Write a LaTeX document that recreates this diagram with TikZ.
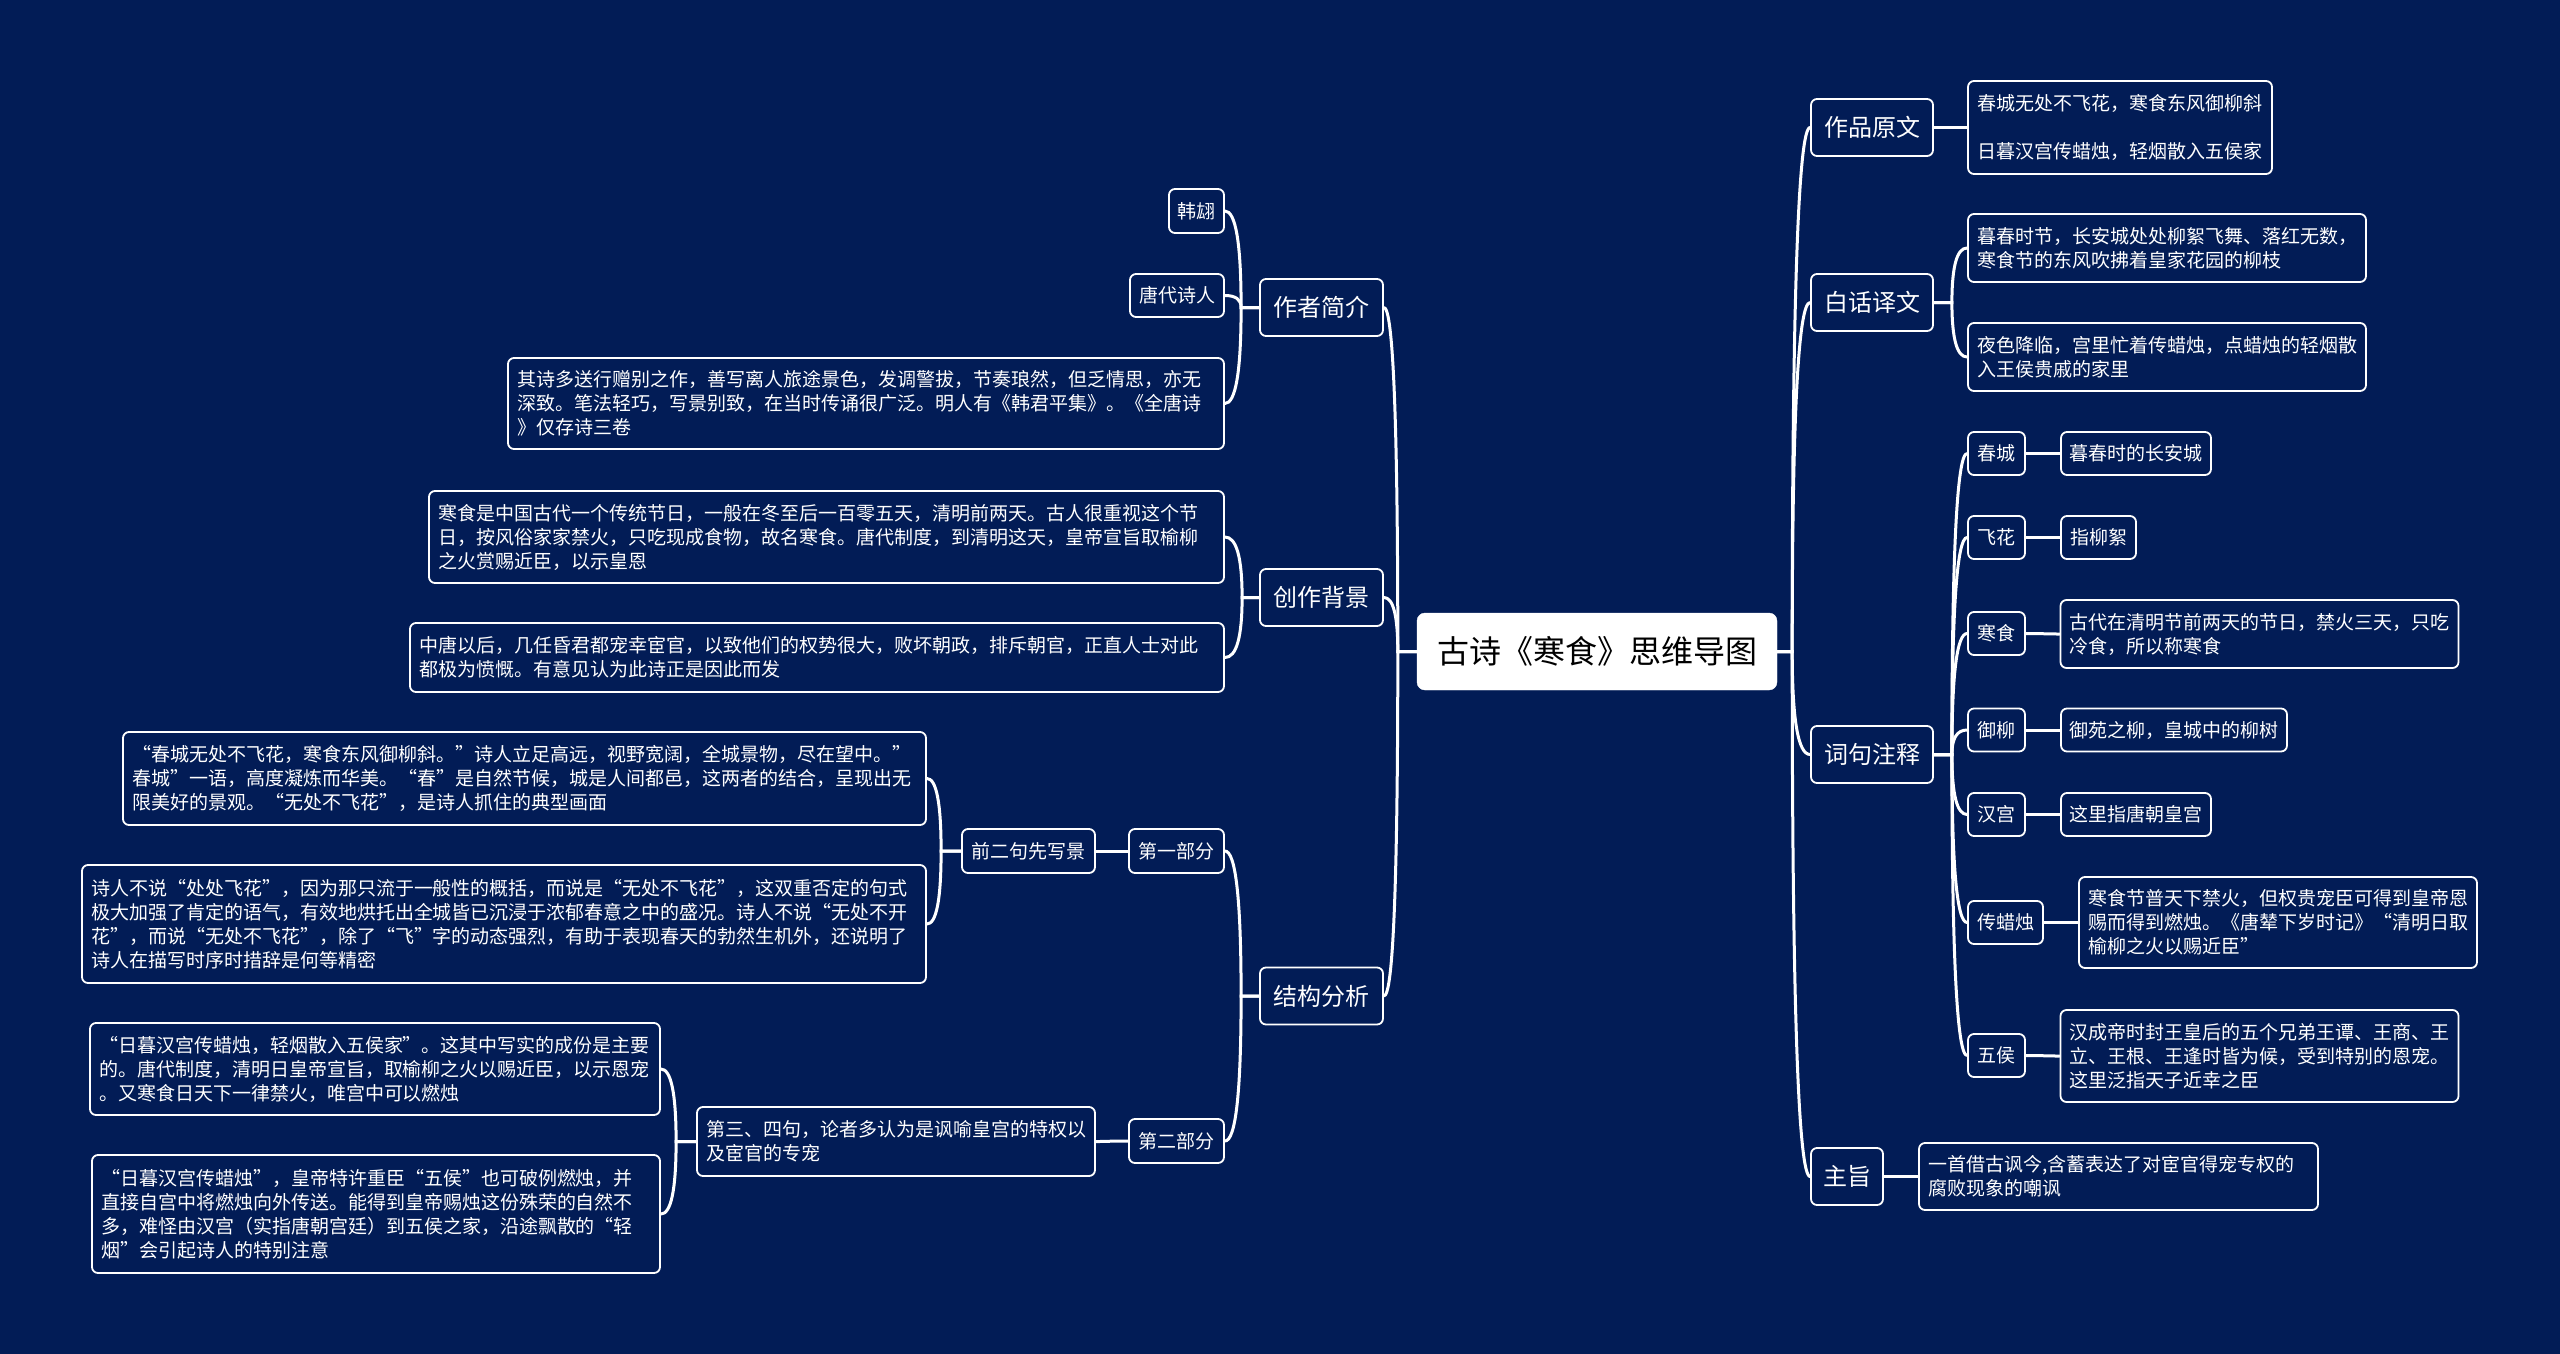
\documentclass[tikz,border=0pt]{standalone}
\usepackage{fontspec}
\newfontfamily\cjk{Noto Sans CJK SC}
\usetikzlibrary{calc}
\definecolor{bg}{RGB}{2,28,86}
\tikzset{
  base/.style={draw=white, line width=1.8pt, fill=bg, rounded corners=6pt, text=white, inner sep=0pt},
  root/.style={fill=white, draw=white, rounded corners=8pt, text=black, inner sep=0pt,
    font=\cjk\fontsize{32}{38}\selectfont, minimum width=360pt, minimum height=77pt},
  mainbox/.style={base, font=\cjk\fontsize{24}{30}\selectfont, minimum height=57pt, align=center},
  tag/.style={base, font=\cjk\fontsize{19}{24}\selectfont, minimum height=43pt, align=center},
  leaf/.style 2 args={base, font=\cjk\fontsize{19}{24}\selectfont, align=left, inner xsep=9pt,
    inner ysep=2pt, text width=#1pt, minimum height=#2pt},
  link/.style={draw=white, line width=3pt, line cap=round},
  conn/.style={to path={let \p1=(\tikztostart), \p2=(\tikztotarget) in
    -- (\x1+#1,\y1)
    .. controls (\x1+#1,{\y1+2/3*(\y2-\y1)}) and ({\x1+#1+(\x2-\x1-#1)/3},\y2) ..
    (\tikztotarget)}}
}
\begin{document}
\begin{tikzpicture}[x=1pt,y=-1pt]
\fill[bg] (0,0) rectangle (2560,1354);
\useasboundingbox (0,0) rectangle (2560,1354);

% root
\node[root] (root) at (1597,651.5) {古诗《寒食》思维导图};

% right main branches
\node[mainbox, minimum width=122pt] (A1) at (1872,127.5) {作品原文};
\node[mainbox, minimum width=122pt] (A2) at (1872,302.5) {白话译文};
\node[mainbox, minimum width=122pt] (A3) at (1872,754.5) {词句注释};
\node[mainbox, minimum width=72pt] (A4) at (1847,1176.5) {主旨};

\node[leaf={286}{93}] (A1L) at (2120,127.5) {春城无处不飞花，寒食东风御柳斜\\\mbox{}\\日暮汉宫传蜡烛，轻烟散入五侯家};
\node[leaf={380}{68}] (A2L1) at (2167,248) {暮春时节，长安城处处柳絮飞舞、落红无数，\\寒食节的东风吹拂着皇家花园的柳枝};
\node[leaf={380}{68}] (A2L2) at (2167,357) {夜色降临，宫里忙着传蜡烛，点蜡烛的轻烟散\\入王侯贵戚的家里};

\node[tag, minimum width=57pt] (C1) at (1996.5,453.5) {春城};
\node[tag, minimum width=57pt] (C2) at (1996.5,537.5) {飞花};
\node[tag, minimum width=57pt] (C3) at (1996.5,633.5) {寒食};
\node[tag, minimum width=57pt] (C4) at (1996.5,730) {御柳};
\node[tag, minimum width=57pt] (C5) at (1996.5,814.5) {汉宫};
\node[tag, minimum width=75pt] (C6) at (2005.5,922.5) {传蜡烛};
\node[tag, minimum width=57pt] (C7) at (1996.5,1055.5) {五侯};

\node[tag, minimum width=150pt] (C1L) at (2136,453.5) {暮春时的长安城};
\node[tag, minimum width=75pt] (C2L) at (2098.5,537.5) {指柳絮};
\node[leaf={380}{68}] (C3L) at (2259.5,634) {古代在清明节前两天的节日，禁火三天，只吃\\冷食，所以称寒食};
\node[tag, minimum width=226pt] (C4L) at (2174,730) {御苑之柳，皇城中的柳树};
\node[tag, minimum width=150pt] (C5L) at (2136,814.5) {这里指唐朝皇宫};
\node[leaf={380}{91}] (C6L) at (2278,922.5) {寒食节普天下禁火，但权贵宠臣可得到皇帝恩\\赐而得到燃烛。《唐辇下岁时记》“清明日取\\榆柳之火以赐近臣”};
\node[leaf={380}{92}] (C7L) at (2259.5,1056) {汉成帝时封王皇后的五个兄弟王谭、王商、王\\立、王根、王逢时皆为候，受到特别的恩宠。\\这里泛指天子近幸之臣};

\node[leaf={381}{67}] (A4L) at (2118.5,1176.5) {一首借古讽今,含蓄表达了对宦官得宠专权的\\腐败现象的嘲讽};

% left main branches
\node[mainbox, minimum width=123pt] (B1) at (1321.5,307.5) {作者简介};
\node[mainbox, minimum width=123pt] (B2) at (1321.5,597.5) {创作背景};
\node[mainbox, minimum width=123pt] (B3) at (1321.5,996) {结构分析};

\node[tag, minimum width=55pt, minimum height=44pt] (D1) at (1196.5,211) {韩翃};
\node[tag, minimum width=94pt] (D2) at (1177,295.5) {唐代诗人};
\node[leaf={698}{91}] (D3) at (866,403.5) {其诗多送行赠别之作，善写离人旅途景色，发调警拔，节奏琅然，但乏情思，亦无\\深致。笔法轻巧，写景别致，在当时传诵很广泛。明人有《韩君平集》。《全唐诗\\》仅存诗三卷};

\node[leaf={777}{92}] (E1) at (826.5,537) {寒食是中国古代一个传统节日，一般在冬至后一百零五天，清明前两天。古人很重视这个节\\日，按风俗家家禁火，只吃现成食物，故名寒食。唐代制度，到清明这天，皇帝宣旨取榆柳\\之火赏赐近臣，以示皇恩};
\node[leaf={796}{69}] (E2) at (817,657.5) {中唐以后，几任昏君都宠幸宦官，以致他们的权势很大，败坏朝政，排斥朝官，正直人士对此\\都极为愤慨。有意见认为此诗正是因此而发};

\node[tag, minimum width=95pt, minimum height=44pt] (F1) at (1176.5,851) {第一部分};
\node[tag, minimum width=95pt, minimum height=44pt] (F2) at (1176.5,1141) {第二部分};
\node[tag, minimum width=133pt, minimum height=44pt] (G1) at (1028.5,851) {前二句先写景};
\node[leaf={380}{69}] (G2) at (896,1141.5) {第三、四句，论者多认为是讽喻皇宫的特权以\\及宦官的专宠};

\node[leaf={785}{93}] (H1) at (524.5,778.5) {“春城无处不飞花，寒食东风御柳斜。”诗人立足高远，视野宽阔，全城景物，尽在望中。”\\春城”一语，高度凝炼而华美。“春”是自然节候，城是人间都邑，这两者的结合，呈现出无\\限美好的景观。“无处不飞花”，是诗人抓住的典型画面};
\node[leaf={826}{118}] (H2) at (504,924) {诗人不说“处处飞花”，因为那只流于一般性的概括，而说是“无处不飞花”，这双重否定的句式\\极大加强了肯定的语气，有效地烘托出全城皆已沉浸于浓郁春意之中的盛况。诗人不说“无处不开\\花”，而说“无处不飞花”，除了“飞”字的动态强烈，有助于表现春天的勃然生机外，还说明了\\诗人在描写时序时措辞是何等精密};
\node[leaf={552}{92}] (H3) at (375,1069) {“日暮汉宫传蜡烛，轻烟散入五侯家”。这其中写实的成份是主要\\的。唐代制度，清明日皇帝宣旨，取榆柳之火以赐近臣，以示恩宠\\。又寒食日天下一律禁火，唯宫中可以燃烛};
\node[leaf={550}{118}] (H4) at (376,1214) {“日暮汉宫传蜡烛”，皇帝特许重臣“五侯”也可破例燃烛，并\\直接自宫中将燃烛向外传送。能得到皇帝赐烛这份殊荣的自然不\\多，难怪由汉宫（实指唐朝宫廷）到五侯之家，沿途飘散的“轻\\烟”会引起诗人的特别注意};

% connectors right
\foreach \c in {A1,A2,A3,A4} \draw[link] (root.east) to[conn=15pt] (\c.west);
\draw[link] (A1.east) to[conn=17pt] (A1L.west);
\foreach \c in {A2L1,A2L2} \draw[link] (A2.east) to[conn=18pt] (\c.west);
\foreach \c in {C1,C2,C3,C4,C5,C6,C7} \draw[link] (A3.east) to[conn=18pt] (\c.west);
\foreach \c in {C1,C2,C3,C4,C5,C6,C7} \draw[link] (\c.east) to[conn=16pt] (\c L.west);
\draw[link] (A4.east) to[conn=17pt] (A4L.west);

% connectors left
\foreach \c in {B1,B2,B3} \draw[link] (root.west) to[conn=-19pt] (\c.east);
\foreach \c in {D1,D2,D3} \draw[link] (B1.west) to[conn=-18pt] (\c.east);
\foreach \c in {E1,E2} \draw[link] (B2.west) to[conn=-17pt] (\c.east);
\foreach \c in {F1,F2} \draw[link] (B3.west) to[conn=-18pt] (\c.east);
\draw[link] (F1.west) to[conn=-17pt] (G1.east);
\draw[link] (F2.west) to[conn=-17pt] (G2.east);
\foreach \c in {H1,H2} \draw[link] (G1.west) to[conn=-20pt] (\c.east);
\foreach \c in {H3,H4} \draw[link] (G2.west) to[conn=-20pt] (\c.east);
\end{tikzpicture}
\end{document}
